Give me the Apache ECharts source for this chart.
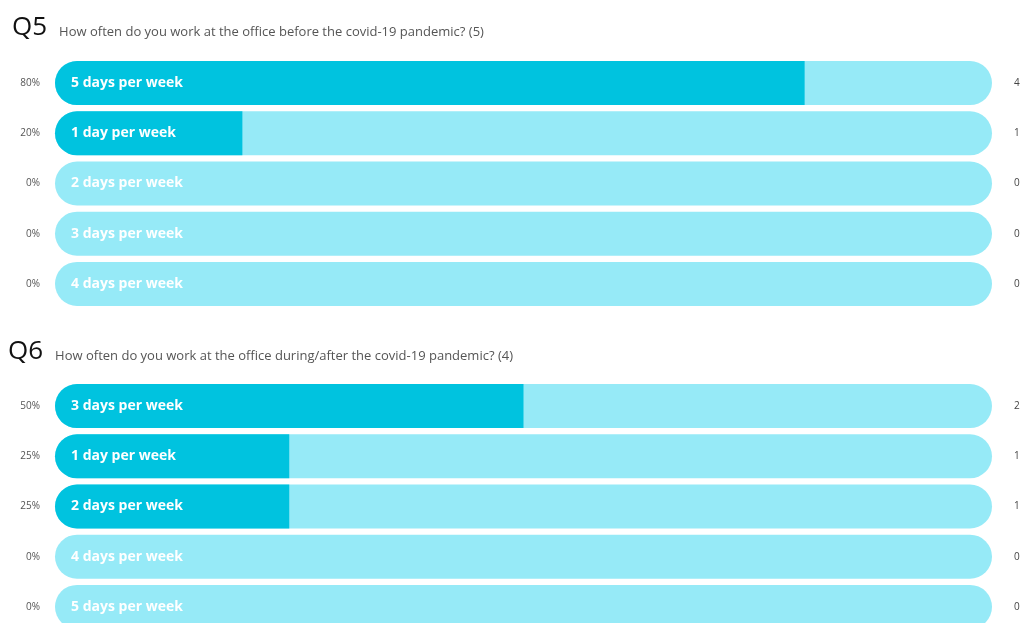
<!DOCTYPE html>
<html><head><meta charset="utf-8">
<script src="https://cdn.jsdelivr.net/npm/echarts@6/dist/echarts.min.js"></script>
<style>html,body{margin:0;padding:0;background:#fff}#c{width:1024px;height:623px}</style>
</head><body><div id="c"></div>
<script>
const q5Title = 'Q5';
const q5Question = 'How often do you work at the office before the covid-19 pandemic? (5)';
const q5Categories = ['5 days per week', '1 day per week', '2 days per week', '3 days per week', '4 days per week'];
const q5Counts = [4, 1, 0, 0, 0];
const q5Percents = [80, 20, 0, 0, 0];

const q6Title = 'Q6';
const q6Question = 'How often do you work at the office during/after the covid-19 pandemic? (4)';
const q6Categories = ['3 days per week', '1 day per week', '2 days per week', '4 days per week', '5 days per week'];
const q6Counts = [2, 1, 1, 0, 0];
const q6Percents = [50, 25, 25, 0, 0];

const DARK = '#00c3df', LIGHT = '#96eaf7';
const FONT = '"Open Sans", "Noto Sans", sans-serif';

const chart = echarts.init(document.getElementById('c'), null, {renderer: 'canvas'});
const grids = [
  {left: 55, right: 32, top: 58, height: 251, outerBoundsMode: 'none', containLabel: false},
  {left: 55, right: 32, top: 381, height: 251, outerBoundsMode: 'none', containLabel: false}
];
const blocks = [
  {cats: q5Categories, counts: q5Counts, pcts: q5Percents},
  {cats: q6Categories, counts: q6Counts, pcts: q6Percents}
];
const xAxis = [], yAxis = [], series = [];
blocks.forEach((b, i) => {
  xAxis.push({gridIndex: i, type: 'value', min: 0, max: 100, show: false});
  yAxis.push({gridIndex: i, type: 'category', data: b.cats, inverse: true,
    axisLine: {show: false}, axisTick: {show: false}, splitLine: {show: false},
    axisLabel: {margin: 15, color: '#555', fontSize: 10, fontFamily: FONT,
      formatter: (v, idx) => b.pcts[idx] + '%'}});
  yAxis.push({gridIndex: i, type: 'category', data: b.cats, inverse: true, position: 'right',
    axisLine: {show: false}, axisTick: {show: false}, splitLine: {show: false},
    axisLabel: {margin: 22, color: '#444', fontSize: 10, fontFamily: FONT,
      formatter: (v, idx) => String(b.counts[idx])}});
  series.push({type: 'bar', xAxisIndex: i, yAxisIndex: i * 2, barWidth: 44, barGap: '-100%',
    silent: true, z: 1,
    data: b.cats.map(() => 100),
    itemStyle: {color: LIGHT, borderRadius: 22}
  });
  series.push({type: 'bar', xAxisIndex: i, yAxisIndex: i * 2, barWidth: 44, barGap: '-100%',
    silent: true, z: 2,
    data: b.pcts,
    itemStyle: {color: DARK, borderRadius: [22, 0, 0, 22]}
  });
  series.push({type: 'bar', xAxisIndex: i, yAxisIndex: i * 2, barWidth: 44, barGap: '-100%',
    silent: true, z: 3,
    data: b.cats.map(() => 100),
    itemStyle: {color: 'rgba(0,0,0,0)'},
    label: {show: true, position: 'insideLeft', distance: 16, color: '#fff', fontSize: 14,
      fontWeight: 'bold', fontFamily: FONT, formatter: p => b.cats[p.dataIndex]}
  });
});

const rich = {
  a: {fontSize: 26, color: '#111', fontFamily: FONT, fontWeight: 'normal', verticalAlign: 'bottom'},
  b: {fontSize: 13, color: '#555', fontFamily: FONT, fontWeight: 'normal', padding: [0, 0, 2, 2], verticalAlign: 'bottom'}
};
chart.setOption({
  animation: false,
  backgroundColor: '#fff',
  title: [
    {left: 12, top: 15, padding: 0, text: '{a|' + q5Title + '}  {b|' + q5Question + '}', textStyle: {fontWeight: 'normal', rich}},
    {left: 8, top: 339, padding: 0, text: '{a|' + q6Title + '}  {b|' + q6Question + '}', textStyle: {fontWeight: 'normal', rich}}
  ],
  grid: grids,
  xAxis, yAxis, series
});
</script></body></html>
